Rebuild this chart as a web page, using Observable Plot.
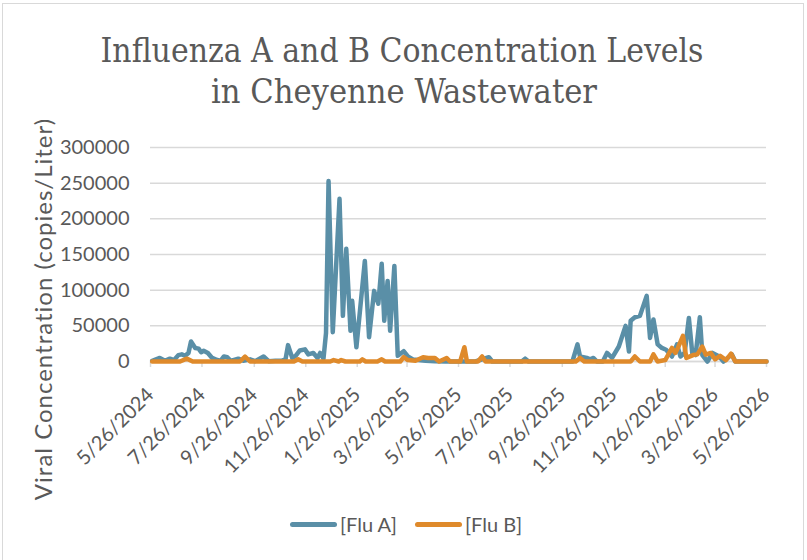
<!DOCTYPE html>
<html>
<head>
<meta charset="utf-8">
<script src="https://cdn.jsdelivr.net/npm/d3@7"></script>
<script src="https://cdn.jsdelivr.net/npm/@observablehq/plot@0.6"></script>
<style>
  html, body { margin: 0; padding: 0; background: #fff; overflow: hidden; }
  #wrap { position: relative; width: 807px; height: 560px; overflow: hidden; font-family: Lato, sans-serif; color: #595959; }
  #border { position: absolute; left: 2px; top: 3px; width: 802px; height: 620px; border: 1.5px solid #d9d9d9; box-sizing: border-box; }
  #title { position: absolute; left: 0; top: 0; }
  #ylabel { position: absolute; left: 42px; top: 309px; transform: translate(-50%, -50%) rotate(-90deg); white-space: nowrap; font-size: 24px; letter-spacing: 1px; }
  .sw { position: absolute; height: 5px; border-radius: 3px; }
  .lt { position: absolute; font-size: 20px; line-height: 20px; white-space: nowrap; }
  #chart { position: absolute; left: 0; top: 0; }
</style>
</head>
<body>
<div id="wrap">
  <div id="border"></div>
  <div id="chart"></div>
  <svg id="title" width="807" height="130">
    <text x="402" y="62" text-anchor="middle" textLength="603" lengthAdjust="spacingAndGlyphs" font-family="DejaVu Serif Condensed, DejaVu Serif" font-stretch="condensed" font-size="34" fill="#595959">Influenza A and B Concentration Levels</text>
    <text x="404" y="103" text-anchor="middle" textLength="386" lengthAdjust="spacingAndGlyphs" font-family="DejaVu Serif Condensed, DejaVu Serif" font-stretch="condensed" font-size="34" fill="#595959">in Cheyenne Wastewater</text>
  </svg>
  <div id="ylabel">Viral Concentration (copies/Liter)</div>
  <div class="sw" style="left:290px; top:522px; width:47px; background:#5A8FA7"></div>
  <div class="lt" style="left:340px; top:514px;">[Flu A]</div>
  <div class="sw" style="left:415px; top:522px; width:47px; background:#DF8A2B"></div>
  <div class="lt" style="left:465px; top:514px;">[Flu B]</div>
</div>
<script>
// ---- data ----
const xTickLabels = ["5/26/2024","7/26/2024","9/26/2024","11/26/2024","1/26/2025","3/26/2025","5/26/2025","7/26/2025","9/26/2025","11/26/2025","1/26/2026","3/26/2026","5/26/2026"];
const yTickValues = [0, 50000, 100000, 150000, 200000, 250000, 300000];

const fluADates = ["2024-05-28","2024-06-06","2024-06-12","2024-06-18","2024-06-23","2024-06-28","2024-07-02","2024-07-06","2024-07-10","2024-07-13","2024-07-18","2024-07-22","2024-07-25","2024-07-28","2024-08-02","2024-08-07","2024-08-13","2024-08-17","2024-08-21","2024-08-25","2024-08-29","2024-09-01","2024-09-07","2024-09-13","2024-09-21","2024-09-27","2024-10-07","2024-10-13","2024-10-21","2024-10-28","2024-11-02","2024-11-05","2024-11-10","2024-11-14","2024-11-19","2024-11-25","2024-11-29","2024-12-05","2024-12-10","2024-12-13","2024-12-17","2024-12-20","2024-12-23","2024-12-28","2025-01-05","2025-01-09","2025-01-13","2025-01-18","2025-01-20","2025-01-25","2025-02-04","2025-02-09","2025-02-15","2025-02-20","2025-02-24","2025-02-27","2025-03-03","2025-03-06","2025-03-11","2025-03-15","2025-03-22","2025-03-27","2025-04-02","2025-04-08","2025-04-17","2025-04-28","2025-05-10","2025-05-28","2025-06-15","2025-07-01","2025-07-05","2025-07-26","2025-08-09","2025-08-13","2025-08-17","2025-09-12","2025-10-08","2025-10-14","2025-10-17","2025-10-25","2025-10-29","2025-11-02","2025-11-06","2025-11-13","2025-11-18","2025-11-24","2025-12-02","2025-12-10","2025-12-14","2025-12-16","2025-12-21","2025-12-27","2026-01-04","2026-01-08","2026-01-12","2026-01-17","2026-01-22","2026-01-27","2026-02-03","2026-02-09","2026-02-13","2026-02-18","2026-02-23","2026-02-27","2026-03-03","2026-03-08","2026-03-11","2026-03-17","2026-03-23","2026-03-31","2026-04-05","2026-04-15","2026-04-19","2026-05-07","2026-05-26"];
const fluAValues = [1000,5000,1000,4000,2000,9000,10000,8000,12000,28000,19000,18000,13000,15000,12000,5000,2000,1000,7000,6000,1000,2000,4000,1000,3000,500,7000,500,1000,1000,3000,23000,5000,8000,15500,17000,10000,12000,5000,12000,4000,40000,253000,41000,228000,64000,158000,43000,85000,20000,141000,34000,99000,81000,137000,57000,113000,43000,134000,8000,14500,7000,3000,2000,1000,500,0,0,0,6000,0,0,0,4000,0,0,0,24000,7000,5000,3000,5000,0,0,12000,5000,21000,50000,14000,57000,62000,64000,92000,33000,59000,24000,19000,16500,7000,24000,7000,12000,61000,12000,9000,62000,9000,0,12000,7000,0,10000,0,0,0];

const fluBDates = ["2024-05-28","2024-06-30","2024-07-08","2024-07-15","2024-09-09","2024-09-15","2024-09-21","2024-11-12","2024-11-17","2024-11-22","2024-12-25","2024-12-29","2025-01-04","2025-01-07","2025-01-12","2025-01-29","2025-02-01","2025-02-05","2025-02-19","2025-02-24","2025-02-28","2025-03-18","2025-03-22","2025-03-27","2025-04-05","2025-04-14","2025-04-20","2025-04-28","2025-05-03","2025-05-12","2025-05-16","2025-05-28","2025-06-02","2025-06-05","2025-06-18","2025-06-23","2025-06-27","2025-10-12","2025-10-17","2025-10-22","2025-12-16","2025-12-21","2025-12-27","2026-01-08","2026-01-12","2026-01-17","2026-01-26","2026-02-03","2026-02-07","2026-02-10","2026-02-16","2026-02-20","2026-02-28","2026-03-05","2026-03-11","2026-03-15","2026-03-21","2026-03-26","2026-04-01","2026-04-08","2026-04-14","2026-04-19","2026-05-26"];
const fluBValues = [0,0,4000,0,0,7000,0,0,3000,0,0,2000,0,2000,0,0,3000,0,0,3000,0,0,6000,2000,1000,6000,5000,5000,0,5000,0,0,20000,0,0,7000,0,0,5000,0,0,7000,0,0,10000,0,2000,19000,12000,19000,36000,5000,9000,10000,21000,9500,12000,3000,8000,2000,11000,0,0];

const colorA = "#5A8FA7";
const colorB = "#DF8A2B";

// ---- build ----
const parse = s => new Date(s + "T00:00:00Z");
const parseTick = s => { const [m, d, y] = s.split("/").map(Number); return new Date(Date.UTC(y, m - 1, d)); };
const xTicks = xTickLabels.map(parseTick);
const fluA = fluADates.map((d, i) => ({date: parse(d), value: fluAValues[i]}));
const fluB = fluBDates.map((d, i) => ({date: parse(d), value: fluBValues[i]}));
const fmt = d => `${d.getUTCMonth() + 1}/${d.getUTCDate()}/${d.getUTCFullYear()}`;

const chart = Plot.plot({
  width: 807,
  height: 560,
  marginLeft: 150,
  marginRight: 41,
  marginTop: 147,
  marginBottom: 199,
  style: {fontFamily: "Lato, sans-serif", fontSize: "20px", color: "#595959", background: "transparent"},
  x: {type: "utc", domain: [xTicks[0], xTicks[xTicks.length - 1]]},
  y: {domain: [0, 300000]},
  marks: [
    Plot.gridY(yTickValues, {stroke: "#d9d9d9", strokeOpacity: 1, strokeWidth: 1.5}),
    Plot.axisY(yTickValues, {tickSize: 0, tickPadding: 21, tickFormat: d3.format("d"), fill: "#595959", fontSize: 20, label: null}),
    Plot.axisX(xTicks, {tickSize: 6, tickPadding: 24, tickRotate: -45, tickFormat: fmt, stroke: "#d9d9d9", strokeWidth: 1.5, fill: "#595959", fontSize: 20, label: null}),
    Plot.ruleY([0], {stroke: "#d9d9d9", strokeWidth: 1.5}),
    Plot.line(fluA, {x: "date", y: "value", stroke: colorA, strokeWidth: 4.5, strokeLinejoin: "round", strokeLinecap: "round"}),
    Plot.line(fluB, {x: "date", y: "value", stroke: colorB, strokeWidth: 4.5, strokeLinejoin: "round", strokeLinecap: "round"})
  ]
});
document.getElementById("chart").appendChild(chart);
</script>
</body>
</html>
